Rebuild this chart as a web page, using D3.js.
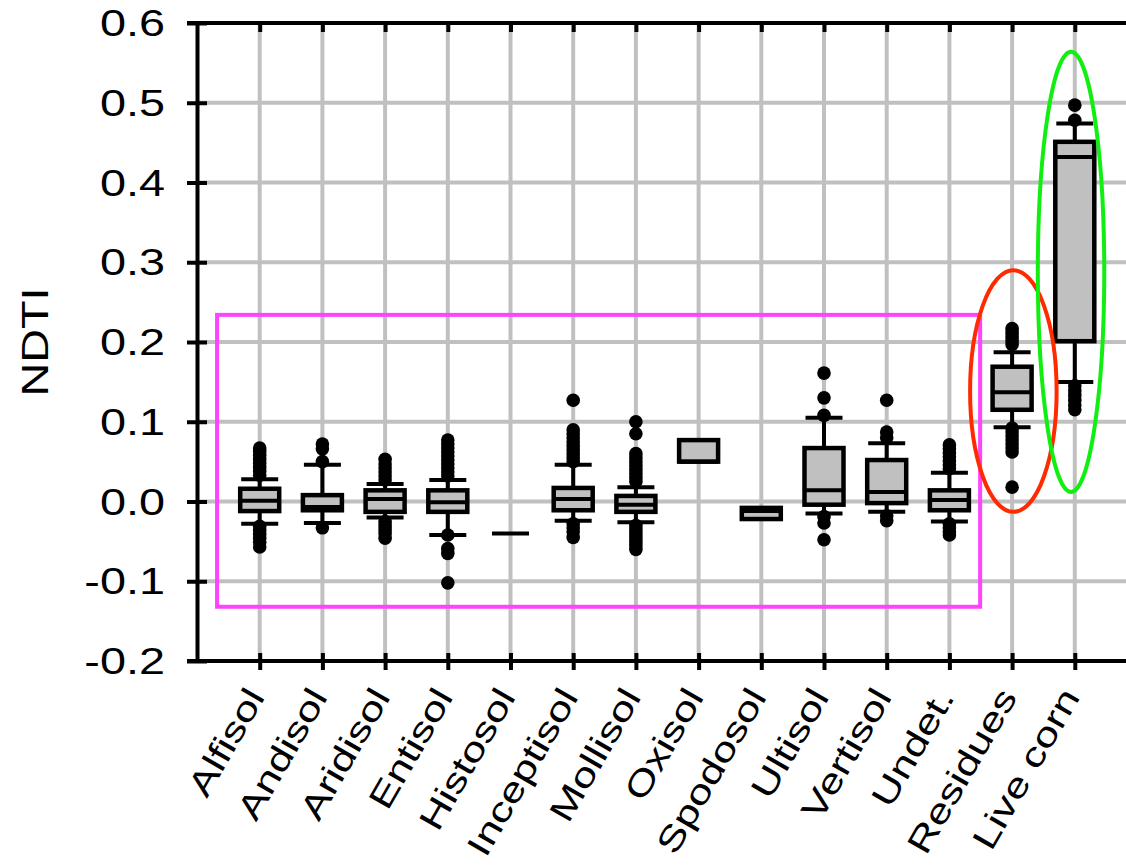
<!DOCTYPE html>
<html>
<head>
<meta charset="utf-8">
<script src="https://cdn.jsdelivr.net/npm/d3@7"></script>
<style>
  html, body { margin: 0; padding: 0; background: #fff; }
  svg { display: block; overflow: hidden; }
  text { font-family: "Liberation Sans", Arial, sans-serif; fill: #000; }
</style>
</head>
<body>
<svg id="chart" width="1126" height="865"></svg>
<script>
// ---- data ----
const categories = ["Alfisol","Andisol","Aridisol","Entisol","Histosol","Inceptisol","Mollisol","Oxisol","Spodosol","Ultisol","Vertisol","Undet.","Residues","Live corn"];
const lowerWhisker = [-0.028, -0.027, -0.020, -0.042, -0.040, -0.024, -0.026, 0.050, -0.022, -0.015, -0.013, -0.025, 0.093, 0.150];
const q1Values     = [-0.012, -0.011, -0.013, -0.013, -0.040, -0.011, -0.013, 0.050, -0.022, -0.004, -0.002, -0.011, 0.115, 0.201];
const medianValues = [ 0.001, -0.007,  0.003, -0.001, -0.040,  0.003, -0.004, 0.050, -0.012,  0.014,  0.012,  0.002, 0.137, 0.432];
const q3Values     = [ 0.016,  0.008,  0.014,  0.014, -0.040,  0.017,  0.007, 0.077, -0.008,  0.067,  0.052,  0.014, 0.169, 0.451];
const upperWhisker = [ 0.028,  0.046,  0.022,  0.027, -0.040,  0.046,  0.018, 0.077, -0.008,  0.105,  0.073,  0.036, 0.187, 0.474];
const outliers = [
  [0.033,0.038,0.043,0.048,0.053,0.058,0.063,0.067,-0.031,-0.036,-0.041,-0.046,-0.051,-0.057],
  [0.050,0.066,0.072,-0.033],
  [0.027,0.032,0.037,0.042,0.047,0.053,-0.025,-0.030,-0.035,-0.040,-0.046],
  [0.032,0.037,0.042,0.047,0.052,0.057,0.062,0.067,0.072,0.077,-0.042,-0.059,-0.065,-0.102],
  [],
  [0.127,0.090,0.085,0.080,0.075,0.070,0.065,0.060,0.055,0.050,-0.028,-0.033,-0.038,-0.045],
  [0.100,0.085,0.060,0.055,0.050,0.045,0.040,0.035,0.030,0.025,-0.030,-0.035,-0.040,-0.045,-0.050,-0.055,-0.060],
  [],
  [],
  [0.161,0.130,0.108,-0.019,-0.027,-0.048],
  [0.127,0.087,0.080,-0.018,-0.024],
  [0.071,0.066,0.061,0.056,0.051,0.046,0.041,-0.028,-0.033,-0.038,-0.042],
  [0.217,0.212,0.207,0.202,0.197,0.092,0.087,0.082,0.077,0.072,0.067,0.062,0.018],
  [0.497,0.478,0.145,0.139,0.133,0.127,0.121,0.115]
];
const yTickValues = [-0.2,-0.1,0.0,0.1,0.2,0.3,0.4,0.5,0.6];
const yTickLabels = ["-0.2","-0.1","0.0","0.1","0.2","0.3","0.4","0.5","0.6"];
const yTitle = "NDTI";
// annotations in data space: x in category slots (1-based), y in NDTI
const magentaRect = {x0: 0.32, x1: 12.49, y0: -0.132, y1: 0.234};
const redEllipse  = {cx: 13.02, rx: 0.69, y0: -0.013, y1: 0.29};
const greenEllipse = {cx: 13.94, rx: 0.53, y0: 0.012, y1: 0.564};

// ---- layout ----
const W = 1126, H = 865;
const margin = {left: 197, top: 23};
const plotH = 638;
const step = 62.7;
const plotW = step * (categories.length + 1);
const stretch = 1.3; // wide lettering of the original

const svg = d3.select("#chart");
const x = d3.scaleLinear().domain([0, categories.length + 1]).range([margin.left, margin.left + plotW]);
const y = d3.scaleLinear().domain([-0.2, 0.6]).range([margin.top + plotH, margin.top]);
const slots = categories.map((c, i) => i + 1);

const gridColor = "#c0c0c0";
// grid
svg.append("g").selectAll("line").data(yTickValues).join("line")
  .attr("x1", x(0)).attr("x2", W + 20)
  .attr("y1", d => y(d)).attr("y2", d => y(d))
  .attr("stroke", gridColor).attr("stroke-width", 4);
svg.append("g").selectAll("line").data(slots).join("line")
  .attr("x1", d => x(d)).attr("x2", d => x(d))
  .attr("y1", y(0.6)).attr("y2", y(-0.2))
  .attr("stroke", gridColor).attr("stroke-width", 4);

// annotation rectangle
svg.append("rect")
  .attr("x", x(magentaRect.x0)).attr("y", y(magentaRect.y1))
  .attr("width", x(magentaRect.x1) - x(magentaRect.x0))
  .attr("height", y(magentaRect.y0) - y(magentaRect.y1))
  .attr("fill", "none").attr("stroke", "#ff44ff").attr("stroke-width", 4);

// boxes
const boxW = 39, capW = 37;
const boxes = svg.append("g").selectAll("g").data(categories).join("g");
boxes.each(function(c, i) {
  const g = d3.select(this);
  const cx = x(slots[i]);
  const lw = lowerWhisker[i], uw = upperWhisker[i], q1 = q1Values[i], q3 = q3Values[i], md = medianValues[i];
  g.selectAll("circle").data(outliers[i]).join("circle")
    .attr("cx", cx).attr("cy", d => y(d)).attr("r", 6.8).attr("fill", "#000");
  if (uw > q3) {
    g.append("line").attr("x1", cx).attr("x2", cx).attr("y1", y(q3)).attr("y2", y(uw)).attr("stroke", "#000").attr("stroke-width", 4);
    g.append("line").attr("x1", cx - capW/2).attr("x2", cx + capW/2).attr("y1", y(uw)).attr("y2", y(uw)).attr("stroke", "#000").attr("stroke-width", 4);
  }
  if (lw < q1) {
    g.append("line").attr("x1", cx).attr("x2", cx).attr("y1", y(q1)).attr("y2", y(lw)).attr("stroke", "#000").attr("stroke-width", 4);
    g.append("line").attr("x1", cx - capW/2).attr("x2", cx + capW/2).attr("y1", y(lw)).attr("y2", y(lw)).attr("stroke", "#000").attr("stroke-width", 4);
  }
  if (q3 > q1) {
    g.append("rect").attr("x", cx - boxW/2).attr("width", boxW)
      .attr("y", y(q3)).attr("height", y(q1) - y(q3))
      .attr("fill", "#c0c0c0").attr("stroke", "#000").attr("stroke-width", 4.5);
    g.append("line").attr("x1", cx - boxW/2).attr("x2", cx + boxW/2).attr("y1", y(md)).attr("y2", y(md)).attr("stroke", "#000").attr("stroke-width", 4);
  } else {
    g.append("line").attr("x1", cx - capW/2).attr("x2", cx + capW/2).attr("y1", y(md)).attr("y2", y(md)).attr("stroke", "#000").attr("stroke-width", 4);
  }
});

// ellipses
[[redEllipse, "#ff2a00"], [greenEllipse, "#11ee11"]].forEach(([e, col]) => {
  svg.append("ellipse")
    .attr("cx", x(e.cx)).attr("cy", (y(e.y0) + y(e.y1)) / 2)
    .attr("rx", x(e.rx) - x(0)).attr("ry", (y(e.y0) - y(e.y1)) / 2)
    .attr("fill", "none").attr("stroke", col).attr("stroke-width", 4);
});

// axes
const axisStyle = g => {
  g.select(".domain").attr("stroke", "#000").attr("stroke-width", 4);
  g.selectAll(".tick line").attr("stroke", "#000").attr("stroke-width", 4);
};
const yAxis = svg.append("g").attr("transform", `translate(${x(0)},0)`)
  .call(d3.axisLeft(y).tickValues(yTickValues).tickFormat((d, i) => yTickLabels[i]).tickSize(10).tickSizeOuter(0))
  .call(axisStyle);
yAxis.selectAll(".tick").append("line").attr("x2", 10).attr("stroke", "#000").attr("stroke-width", 4);
yAxis.selectAll(".tick text")
  .attr("x", 0).attr("dy", "0.35em")
  .attr("transform", `translate(-32,0) scale(${stretch},1)`)
  .attr("font-size", 36).attr("font-family", "Liberation Sans, Arial, sans-serif");

const xAxis = svg.append("g").attr("transform", `translate(0,${y(-0.2)})`)
  .call(d3.axisBottom(x).tickValues(slots).tickFormat("").tickSize(9).tickSizeOuter(0))
  .call(axisStyle);
xAxis.select(".domain").attr("d", `M${x(0) - 10},0H${W + 20}`);
xAxis.selectAll(".tick").append("line").attr("y2", -8).attr("stroke", "#000").attr("stroke-width", 4);

const topAxis = svg.append("g").attr("transform", `translate(0,${y(0.6)})`)
  .call(d3.axisTop(x).tickValues(slots).tickFormat("").tickSize(-9).tickSizeOuter(0))
  .call(axisStyle);
topAxis.select(".domain").attr("d", `M${x(0) - 10},0H${W + 20}`);

// category labels
svg.append("g").selectAll("text").data(categories).join("text")
  .attr("transform", (d, i) => `translate(${x(slots[i]) + 6},${y(-0.2) + 36}) rotate(-60) scale(${stretch},1)`)
  .attr("text-anchor", "end")
  .attr("font-size", 34)
  .text(d => d);

// y title
svg.append("text")
  .attr("transform", `translate(48,${y(0.2)}) rotate(-90) scale(${stretch},1)`)
  .attr("text-anchor", "middle")
  .attr("font-size", 36)
  .text(yTitle);
</script>
</body>
</html>
